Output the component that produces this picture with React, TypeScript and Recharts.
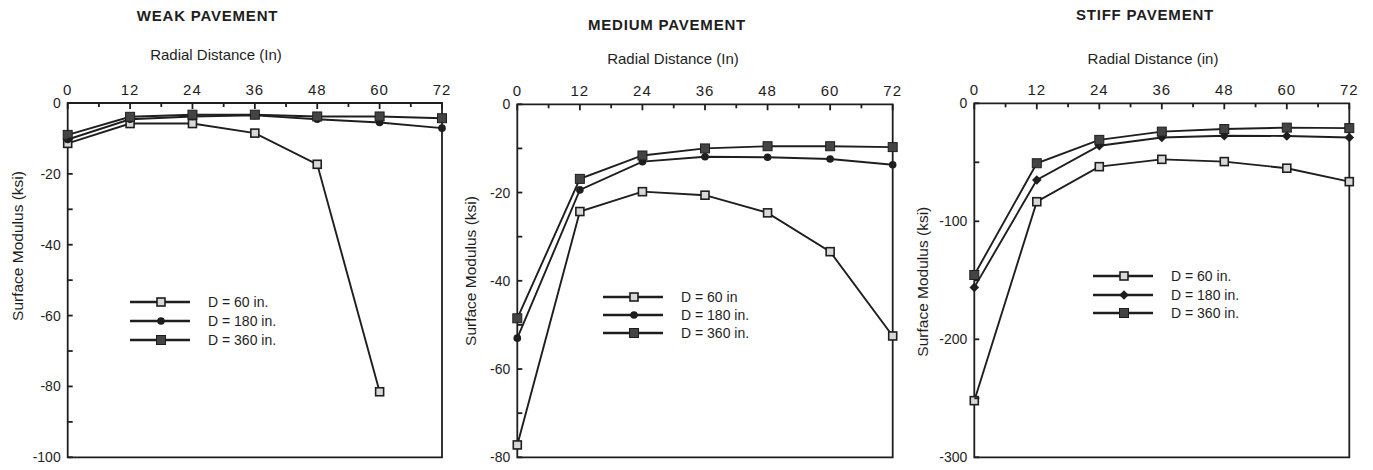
import React from 'react';
import { LineChart, Line, XAxis, YAxis, ReferenceArea, Legend } from 'recharts';

// radial distance of each sensor (in)
const radialDistance = [0, 12, 24, 36, 48, 60, 72];
const xTicks = [0, 6, 12, 18, 24, 30, 36, 42, 48, 54, 60, 66, 72];

// surface modulus (ksi)
const weakD60 = [-11.4, -5.8, -5.8, -8.5, -17.3, -81.5];
const weakD180 = [-10.3, -4.6, -3.8, -3.5, -4.6, -5.5, -7.1];
const weakD360 = [-9.0, -3.9, -3.3, -3.3, -3.8, -3.8, -4.3];

const mediumD60 = [-77.2, -24.3, -19.8, -20.6, -24.6, -33.4, -52.5];
const mediumD180 = [-53, -19.4, -13, -11.9, -12, -12.4, -13.7];
const mediumD360 = [-48.5, -16.9, -11.6, -10, -9.5, -9.5, -9.7];

const stiffD60 = [-252, -83.4, -53.7, -47.5, -49.4, -55, -66.4];
const stiffD180 = [-156, -65, -36, -29, -27.5, -27.7, -29];
const stiffD360 = [-145.5, -50.8, -31, -24, -21.8, -20.6, -21];

const weakYTicks = [0, -10, -20, -30, -40, -50, -60, -70, -80, -90, -100];
const weakYLabels = [0, -20, -40, -60, -80, -100];
const mediumYTicks = [0, -10, -20, -30, -40, -50, -60, -70, -80];
const mediumYLabels = [0, -20, -40, -60, -80];
const stiffYTicks = [0, -50, -100, -150, -200, -250, -300];
const stiffYLabels = [0, -100, -200, -300];

const weakNames = ['D = 60 in.', 'D = 180 in.', 'D = 360 in.'];
const mediumNames = ['D = 60 in', 'D = 180 in.', 'D = 360 in.'];
const stiffNames = ['D = 60 in.', 'D = 180 in.', 'D = 360 in.'];

const FONT = '"Liberation Sans", Arial, Helvetica, sans-serif';
const INK = '#1e1e1e';
const KEYS = ['s0', 's1', 's2'];

type Kind = 'hollow' | 'circle' | 'square' | 'diamond';

const Marker = ({ cx, cy, kind }: { cx: number; cy: number; kind: Kind }) => {
  if (cx == null || cy == null || isNaN(cy)) return <g />;
  if (kind === 'hollow')
    return <rect x={cx - 4} y={cy - 4} width={8} height={8} fill="#d8d8d8" stroke={INK} strokeWidth={1.6} />;
  if (kind === 'circle') return <circle cx={cx} cy={cy} r={3.8} fill={INK} />;
  if (kind === 'diamond')
    return <path d={`M${cx},${cy - 4.8}L${cx + 4.8},${cy}L${cx},${cy + 4.8}L${cx - 4.8},${cy}Z`} fill={INK} />;
  return <rect x={cx - 4.5} y={cy - 4.5} width={9} height={9} fill="#444" stroke={INK} strokeWidth={1} />;
};

const TopTick = (t: any) => {
  const major = t.payload.value % 12 === 0;
  return (
    <g>
      <line x1={t.x} x2={t.x} y1={t.y} y2={t.y + (major ? 6 : 4)} stroke={INK} strokeWidth={1.8} />
      {major && (
        <text x={t.x} y={t.y - 8} textAnchor="middle" fontSize={15} letterSpacing={1} fill={INK} fontFamily={FONT}>
          {t.payload.value}
        </text>
      )}
    </g>
  );
};

const makeLeftTick = (labeled: number[]) => (t: any) => (
  <g>
    <line x1={t.x} x2={t.x + 5} y1={t.y} y2={t.y} stroke={INK} strokeWidth={1.8} />
    {labeled.includes(t.payload.value) && (
      <text x={t.x - 7} y={t.y + 5} textAnchor="end" fontSize={14} fill={INK} fontFamily={FONT}>
        {t.payload.value}
      </text>
    )}
  </g>
);

const LegendBox = ({ names, kinds, gap }: { names: string[]; kinds: Kind[]; gap: number }) => (
  <div style={{ fontFamily: FONT, fontSize: 14, color: INK }}>
    {names.map((n, i) => (
      <div key={n} style={{ display: 'flex', alignItems: 'center', height: gap }}>
        <svg width={60} height={14} style={{ marginRight: 18 }}>
          <line x1={0} x2={60} y1={7} y2={7} stroke={INK} strokeWidth={2.4} />
          <Marker cx={31} cy={7} kind={kinds[i]} />
        </svg>
        <span>{n}</span>
      </div>
    ))}
  </div>
);

type PanelProps = {
  left: number;
  width: number;
  margin: { top: number; left: number; right: number; bottom: number };
  series: number[][];
  kinds: Kind[];
  names: string[];
  domain: [number, number];
  yTicks: number[];
  yLabels: number[];
  title: string;
  titleAt: [number, number];
  radial: string;
  radialAt: [number, number];
  yLabelAt: [number, number];
  legendAt: [number, number];
  legendGap: number;
};

function Panel(p: PanelProps) {
  const data = radialDistance.map((x, i) => ({
    x,
    s0: p.series[0][i] ?? null,
    s1: p.series[1][i] ?? null,
    s2: p.series[2][i] ?? null,
  }));
  return (
    <div style={{ position: 'absolute', left: p.left, top: 0 }}>
      <LineChart width={p.width} height={470} data={data} margin={p.margin}>
        <XAxis
          type="number"
          dataKey="x"
          orientation="top"
          height={30}
          domain={[0, 72]}
          ticks={xTicks}
          interval={0}
          tickSize={0}
          tickMargin={0}
          axisLine={false}
          tick={TopTick}
        />
        <YAxis
          type="number"
          width={30}
          domain={p.domain}
          ticks={p.yTicks}
          interval={0}
          tickSize={0}
          tickMargin={0}
          axisLine={false}
          tick={makeLeftTick(p.yLabels)}
        />
        <ReferenceArea x1={0} x2={72} y1={p.domain[0]} y2={p.domain[1]} fill="none" stroke={INK} strokeWidth={1.8} />
        {KEYS.map((k, i) => (
          <Line
            key={k}
            dataKey={k}
            type="linear"
            stroke={INK}
            strokeWidth={1.9}
            isAnimationActive={false}
            activeDot={false}
            dot={(d: any) => <Marker key={`${k}-${d.index}`} cx={d.cx} cy={d.cy} kind={p.kinds[i]} />}
          />
        ))}
        <Legend
          layout="vertical"
          align="center"
          verticalAlign="middle"
          wrapperStyle={{ left: p.legendAt[0], top: p.legendAt[1], width: 220 }}
          content={() => <LegendBox names={p.names} kinds={p.kinds} gap={p.legendGap} />}
        />
        <text x={p.titleAt[0]} y={p.titleAt[1]} textAnchor="middle" fontSize={15} fontWeight="bold" letterSpacing={0.8} fill={INK} fontFamily={FONT}>
          {p.title}
        </text>
        <text x={p.radialAt[0]} y={p.radialAt[1]} textAnchor="middle" fontSize={15} fill={INK} fontFamily={FONT}>
          {p.radial}
        </text>
        <text
          x={p.yLabelAt[0]}
          y={p.yLabelAt[1]}
          textAnchor="middle"
          dominantBaseline="central"
          fontSize={15.5}
          fill={INK}
          fontFamily={FONT}
          transform={`rotate(-90, ${p.yLabelAt[0]}, ${p.yLabelAt[1]})`}
        >
          Surface Modulus (ksi)
        </text>
      </LineChart>
    </div>
  );
}

export default function App() {
  return (
    <div style={{ position: 'absolute', left: 0, top: 0, width: 1373, height: 470, background: '#fff' }}>
      <Panel
        left={0}
        width={457}
        margin={{ top: 73, left: 37.7, right: 15, bottom: 12.7 }}
        series={[weakD60, weakD180, weakD360]}
        kinds={['hollow', 'circle', 'square']}
        names={weakNames}
        domain={[-100, 0]}
        yTicks={weakYTicks}
        yLabels={weakYLabels}
        title="WEAK PAVEMENT"
        titleAt={[207.5, 21]}
        radial="Radial Distance (In)"
        radialAt={[216, 59.5]}
        yLabelAt={[17.7, 246]}
        legendAt={[130, 292]}
        legendGap={19}
      />
      <Panel
        left={457}
        width={458}
        margin={{ top: 74.3, left: 30.3, right: 22.3, bottom: 12.7 }}
        series={[mediumD60, mediumD180, mediumD360]}
        kinds={['hollow', 'circle', 'square']}
        names={mediumNames}
        domain={[-80, 0]}
        yTicks={mediumYTicks}
        yLabels={mediumYLabels}
        title="MEDIUM PAVEMENT"
        titleAt={[210, 29.5]}
        radial="Radial Distance (In)"
        radialAt={[216, 64.3]}
        yLabelAt={[13, 271]}
        legendAt={[146, 287.5]}
        legendGap={18.3}
      />
      <Panel
        left={915}
        width={458}
        margin={{ top: 73.3, left: 29.3, right: 23.7, bottom: 12.7 }}
        series={[stiffD60, stiffD180, stiffD360]}
        kinds={['hollow', 'diamond', 'square']}
        names={stiffNames}
        domain={[-300, 0]}
        yTicks={stiffYTicks}
        yLabels={stiffYLabels}
        title="STIFF PAVEMENT"
        titleAt={[230, 20]}
        radial="Radial Distance (in)"
        radialAt={[238, 63.5]}
        yLabelAt={[8, 281.7]}
        legendAt={[178, 266.5]}
        legendGap={18.7}
      />
    </div>
  );
}
